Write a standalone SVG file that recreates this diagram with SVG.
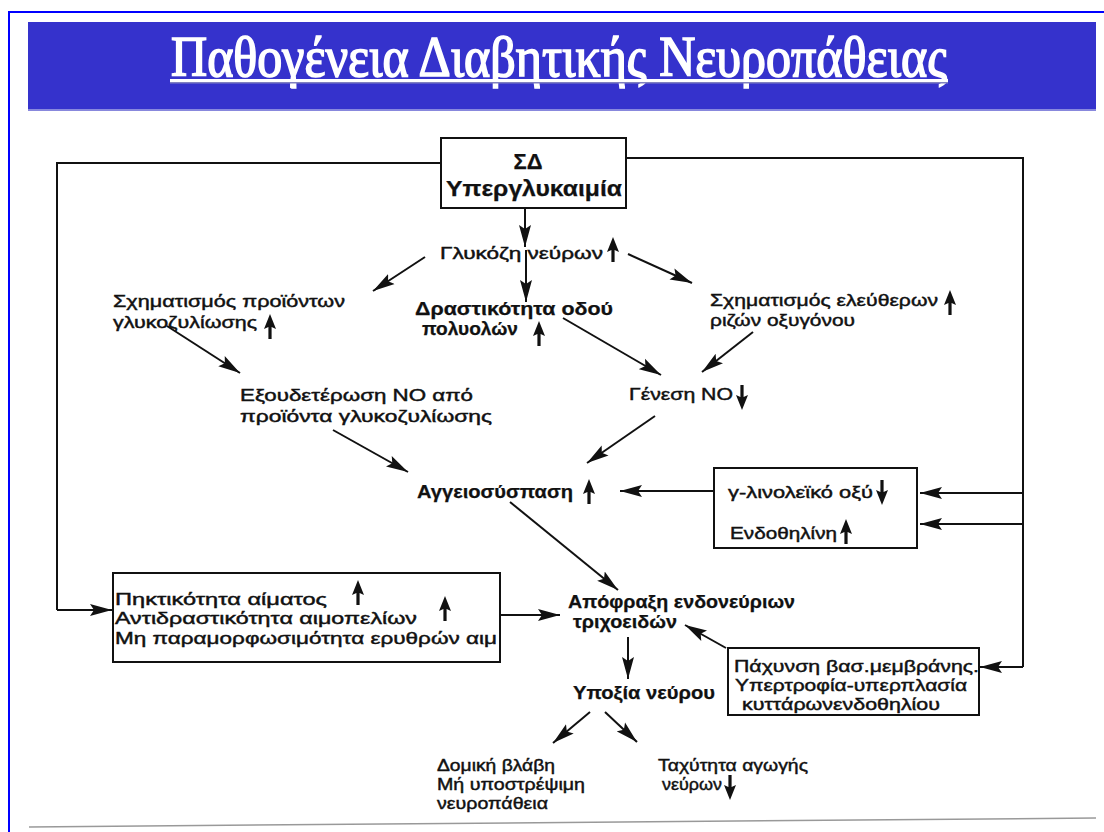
<svg xmlns="http://www.w3.org/2000/svg" width="1104" height="832" viewBox="0 0 1104 832">
<style>
.t{font-family:"Liberation Sans",Arial,sans-serif;font-size:17px;fill:#111;stroke:#111;stroke-width:0.45}
.b{font-weight:bold;stroke-width:0.25;font-size:18px}
.box{fill:#fff;stroke:#111;stroke-width:2}
.c{stroke:#111;stroke-width:2;fill:none}
.ar{stroke:#111;stroke-width:2;fill:none;marker-end:url(#ah)}
</style>
<defs>
<marker id="ah" markerUnits="userSpaceOnUse" markerWidth="24" markerHeight="14" refX="22" refY="7" orient="auto">
<path d="M0,1 L22,7 L0,13 L4,7 Z" fill="#111"/>
</marker>
<g id="up"><path d="M0,-13 L6,2 L1.6,0 L1.6,12 L-1.6,12 L-1.6,0 L-6,2 Z" fill="#111"/></g>
<g id="dn"><path d="M0,13 L6,-2 L1.6,0 L1.6,-12 L-1.6,-12 L-1.6,0 L-6,-2 Z" fill="#111"/></g>
</defs>
<rect width="1104" height="832" fill="#fff"/>
<g id="frame">
<path d="M9,832 V12 H1104" stroke="#0000ff" stroke-width="2" fill="none"/>
<rect x="28" y="22" width="1068" height="88" fill="#3532cc"/>
<rect x="28" y="109" width="1068" height="2" fill="#8888dd"/>
<path d="M29,827 L1096,818" stroke="#999" stroke-width="1.5"/>
</g>
<g id="title">
<text x="171" y="76" font-family="'Liberation Serif','Times New Roman',serif" font-size="56" fill="#fff" stroke="#fff" stroke-width="1.6" textLength="776" lengthAdjust="spacingAndGlyphs">Παθογένεια Διαβητικής Νευροπάθειας</text>
<rect x="170" y="79" width="778" height="3" fill="#fff"/>
<rect x="170" y="82" width="778" height="1.5" fill="#8080c0"/>
</g>
<g id="connectors">
<path class="c" d="M441,163 H57 V610"/>
<path class="ar" d="M57,610 H112"/>
<path class="c" d="M626,158 H1023 V667"/>
<path class="ar" d="M1023,667 H980"/>
<path class="ar" d="M1023,493 H920"/>
<path class="ar" d="M1023,524 H920"/>
<path class="ar" d="M525,208 V247"/>
<path class="ar" d="M526,250 V302"/>
<path class="ar" d="M425,257 L373,291"/>
<path class="ar" d="M628,254 L692,283"/>
<path class="ar" d="M563,318 L661,375"/>
<path class="ar" d="M753,332 L702,372"/>
<path class="ar" d="M167,326 L240,373"/>
<path class="ar" d="M333,430 L408,472"/>
<path class="ar" d="M655,416 L587,463"/>
<path class="ar" d="M714,491 L620,491"/>
<path class="ar" d="M510,502 L618,590"/>
<path class="ar" d="M500,615 H560"/>
<path class="ar" d="M726,648 L685,625"/>
<path class="ar" d="M628,637 V679"/>
<path class="ar" d="M590,712 L553,743"/>
<path class="ar" d="M605,712 L637,742"/>
</g>
<g id="n-sd">
<rect class="box" x="441" y="138" width="185" height="70"/>
<text class="t b" x="528" y="169" style="font-size:22px" text-anchor="middle">ΣΔ</text>
<text class="t b" x="446" y="196" style="font-size:22px" textLength="176" lengthAdjust="spacingAndGlyphs">Υπεργλυκαιμία</text>
</g>
<g id="n-glucose">
<text class="t" x="440" y="259" textLength="163" lengthAdjust="spacingAndGlyphs">Γλυκόζη νεύρων</text>
<use href="#up" x="613" y="250"/>
</g>
<g id="n-polyol">
<text class="t b" x="415" y="315" textLength="198" lengthAdjust="spacingAndGlyphs">Δραστικότητα οδού</text>
<text class="t b" x="422" y="335" textLength="96" lengthAdjust="spacingAndGlyphs">πολυολών</text>
<use href="#up" x="539" y="334"/>
</g>
<g id="n-age">
<text class="t" x="113" y="307" textLength="232" lengthAdjust="spacingAndGlyphs">Σχηματισμός προϊόντων</text>
<text class="t" x="113" y="328" textLength="144" lengthAdjust="spacingAndGlyphs">γλυκοζυλίωσης</text>
<use href="#up" x="270" y="327"/>
</g>
<g id="n-radicals">
<text class="t" x="710" y="306" textLength="228" lengthAdjust="spacingAndGlyphs">Σχηματισμός ελεύθερων</text>
<use href="#up" x="950" y="303"/>
<text class="t" x="710" y="326" textLength="145" lengthAdjust="spacingAndGlyphs">ριζών οξυγόνου</text>
</g>
<g id="n-neutral">
<text class="t" x="240" y="401" textLength="233" lengthAdjust="spacingAndGlyphs">Εξουδετέρωση NO από</text>
<text class="t" x="240" y="422" textLength="252" lengthAdjust="spacingAndGlyphs">προϊόντα γλυκοζυλίωσης</text>
</g>
<g id="n-no">
<text class="t" x="629" y="400" textLength="104" lengthAdjust="spacingAndGlyphs">Γένεση NO</text>
<use href="#dn" x="742" y="397"/>
</g>
<g id="n-vaso">
<text class="t b" x="417" y="498" textLength="156" lengthAdjust="spacingAndGlyphs">Αγγειοσύσπαση</text>
<use href="#up" x="589" y="492"/>
</g>
<g id="n-linoleic">
<rect class="box" x="714" y="468" width="203" height="80"/>
<text class="t" x="728" y="498" textLength="145" lengthAdjust="spacingAndGlyphs">γ-λινολεϊκό οξύ</text>
<use href="#dn" x="882" y="492"/>
<text class="t" x="730" y="539" textLength="107" lengthAdjust="spacingAndGlyphs">Ενδοθηλίνη</text>
<use href="#up" x="846" y="532"/>
</g>
<g id="n-blood">
<rect class="box" x="113" y="573" width="387" height="89"/>
<text class="t" x="115" y="605" textLength="212" lengthAdjust="spacingAndGlyphs">Πηκτικότητα αίματος</text>
<use href="#up" x="358" y="593"/>
<text class="t" x="115" y="624" textLength="302" lengthAdjust="spacingAndGlyphs">Αντιδραστικότητα αιμοπελίων</text>
<use href="#up" x="445" y="609"/>
<text class="t" x="115" y="644" textLength="382" lengthAdjust="spacingAndGlyphs">Μη παραμορφωσιμότητα ερυθρών αιμ</text>
</g>
<g id="n-occlusion">
<text class="t b" x="568" y="608" textLength="227" lengthAdjust="spacingAndGlyphs">Απόφραξη ενδονεύριων</text>
<text class="t b" x="573" y="628" textLength="104" lengthAdjust="spacingAndGlyphs">τριχοειδών</text>
</g>
<g id="n-membrane">
<rect class="box" x="728" y="648" width="251" height="67"/>
<text class="t" x="734" y="672" textLength="245" lengthAdjust="spacingAndGlyphs">Πάχυνση βασ.μεμβράνης.</text>
<text class="t" x="735" y="691" textLength="232" lengthAdjust="spacingAndGlyphs">Υπερτροφία-υπερπλασία</text>
<text class="t" x="742" y="710" textLength="198" lengthAdjust="spacingAndGlyphs">κυττάρωνενδοθηλίου</text>
</g>
<g id="n-hypoxia">
<text class="t b" x="573" y="699" textLength="142" lengthAdjust="spacingAndGlyphs">Υποξία νεύρου</text>
</g>
<g id="n-damage">
<text class="t" x="437" y="771" textLength="118" lengthAdjust="spacingAndGlyphs">Δομική βλάβη</text>
<text class="t" x="437" y="790" textLength="148" lengthAdjust="spacingAndGlyphs">Μή υποστρέψιμη</text>
<text class="t" x="437" y="809" textLength="111" lengthAdjust="spacingAndGlyphs">νευροπάθεια</text>
</g>
<g id="n-velocity">
<text class="t" x="658" y="771" textLength="150" lengthAdjust="spacingAndGlyphs">Ταχύτητα αγωγής</text>
<text class="t" x="662" y="790" textLength="60" lengthAdjust="spacingAndGlyphs">νεύρων</text>
<use href="#dn" x="730" y="787"/>
</g>
</svg>
